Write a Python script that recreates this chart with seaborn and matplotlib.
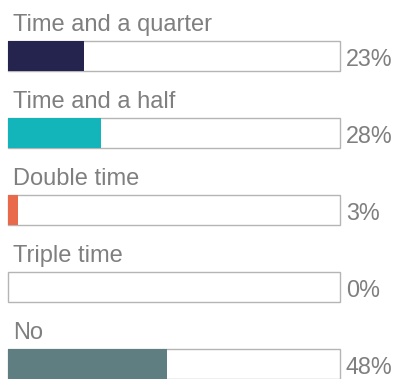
import matplotlib
matplotlib.use("Agg")
import matplotlib.pyplot as plt
import seaborn as sns
import pandas as pd

# Survey answers and their shares (percent)
categories = ["Time and a quarter", "Time and a half", "Double time", "Triple time", "No"]
values = [23, 28, 3, 0, 48]
value_labels = ["23%", "28%", "3%", "0%", "48%"]
bar_colors = ["#25244f", "#13b5bb", "#e9694b", "#ffffff", "#5f7e82"]

sns.set_theme(style="white")
plt.rcParams["font.family"] = ["Liberation Sans", "DejaVu Sans"]

df = pd.DataFrame({"category": categories, "value": values,
                   "full": [100] * len(categories)})

fig = plt.figure(figsize=(3.99, 3.79), dpi=100)
ax = fig.add_axes([8 / 399, 0, 332 / 399, 1])

bar_w = 0.39
text_gray = "#7f7f7f"

# outlined track for every answer
sns.barplot(data=df, x="full", y="category", orient="h", color="white",
            edgecolor="#b5b5b5", linewidth=1.0, width=bar_w, ax=ax)
# filled share
sns.barplot(data=df, x="value", y="category", orient="h", hue="category",
            palette=bar_colors, legend=False, linewidth=0, width=bar_w,
            saturation=1, ax=ax)

for p in ax.patches:
    p.set_clip_on(False)

ax.set_xlim(0, 100)
ax.set_ylim(4.195, -0.727)

for i, (cat, lab) in enumerate(zip(categories, value_labels)):
    ax.text(1.5, i - 0.325, cat, ha="left", va="baseline", fontsize=17,
            color=text_gray, clip_on=False)
    ax.text(101.8, i + 0.125, lab, ha="left", va="baseline", fontsize=16.8,
            color=text_gray, clip_on=False)

ax.set_axis_off()
fig.savefig("out.png", dpi=100, facecolor="white")
